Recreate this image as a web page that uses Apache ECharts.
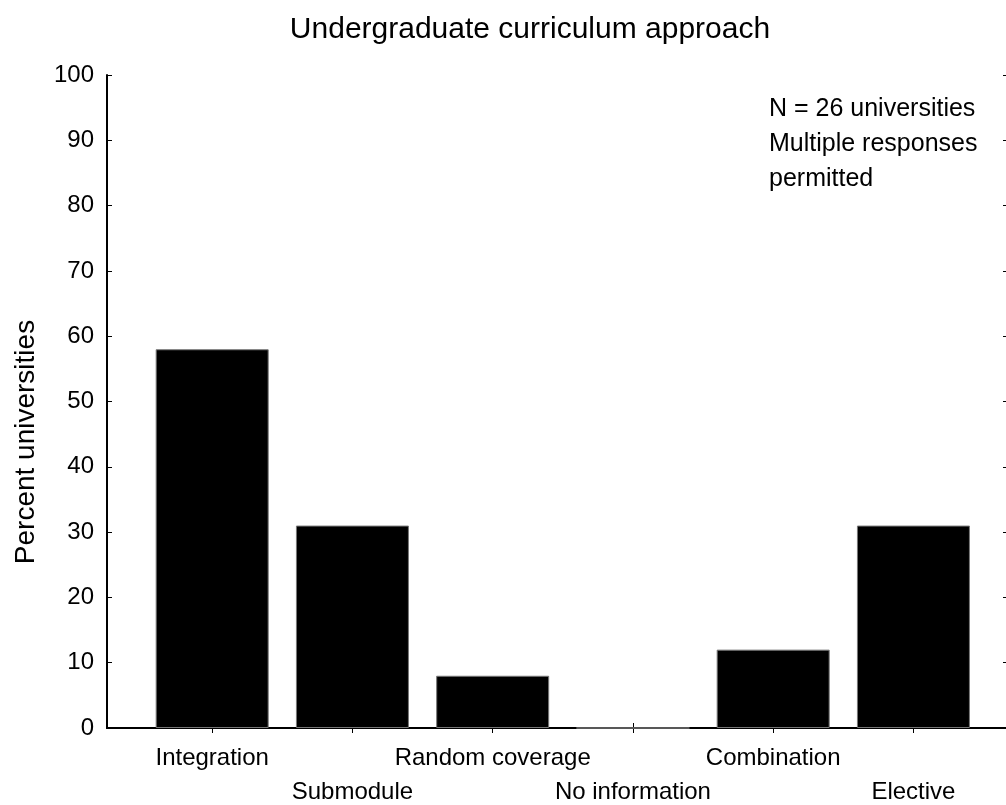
<!DOCTYPE html>
<html>
<head>
<meta charset="utf-8">
<script src="https://cdn.jsdelivr.net/npm/echarts@6/dist/echarts.min.js"></script>
<style>html,body{margin:0;padding:0;background:#fff}#c{width:1006px;height:805px}</style>
</head>
<body>
<div id="c"></div>
<script>
const categories = ['Integration', 'Submodule', 'Random coverage', 'No information', 'Combination', 'Elective'];
const percentValues = [58, 31, 8, 0, 12, 31];
const yTicks = [0, 10, 20, 30, 40, 50, 60, 70, 80, 90, 100];
const titleText = 'Undergraduate curriculum approach';
const yAxisTitle = 'Percent universities';
const noteLines = ['N = 26 universities', 'Multiple responses', 'permitted'];

const positions = categories.map((c, i) => i + 1);
const FONT = 'Liberation Sans, Arial, sans-serif';
const chart = echarts.init(document.getElementById('c'));
chart.setOption({
  animation: false,
  backgroundColor: '#fff',
  title: {
    text: titleText,
    left: 525, top: 10, textAlign: 'center',
    textStyle: { fontFamily: FONT, fontSize: 30, fontWeight: 'normal', color: '#000' }
  },
  grid: { left: 107, right: 0, top: 75, bottom: 77, containLabel: false, outerBoundsMode: 'none' },
  xAxis: [{
    type: 'value', min: 0.25, max: 6.66, position: 'bottom',
    splitLine: { show: false },
    axisLine: { show: true, lineStyle: { color: '#000', width: 2 } },
    axisTick: { show: true, inside: true, length: 5, customValues: positions, lineStyle: { color: '#000', width: 1 } },
    axisLabel: {
      customValues: positions, margin: 13,
      fontFamily: FONT, fontSize: 24, color: '#000', lineHeight: 34,
      formatter: v => {
        const i = Math.round(v) - 1;
        return i % 2 === 0 ? categories[i] : '\n' + categories[i];
      }
    }
  }, {
    type: 'value', min: 0.25, max: 6.66, position: 'top',
    splitLine: { show: false },
    axisLine: { show: true, lineStyle: { color: '#000', width: 2 } },
    axisTick: { show: true, inside: true, length: 5, customValues: positions, lineStyle: { color: '#000', width: 1 } },
    axisLabel: { show: false }
  }],
  yAxis: [{
    type: 'value', min: 0, max: 100, interval: 10, position: 'left',
    splitLine: { show: false },
    axisLine: { show: true, lineStyle: { color: '#000', width: 2 } },
    axisTick: { show: true, inside: true, length: 5, lineStyle: { color: '#000', width: 1 } },
    axisLabel: { margin: 13, fontFamily: FONT, fontSize: 24, color: '#000' }
  }, {
    type: 'value', min: 0, max: 100, interval: 10, position: 'right',
    splitLine: { show: false },
    axisLine: { show: false },
    axisTick: { show: true, inside: true, length: 3, lineStyle: { color: '#000', width: 1 } },
    axisLabel: { show: false }
  }],
  graphic: [{
    type: 'text', x: 26, y: 442, rotation: Math.PI / 2,
    style: { text: yAxisTitle, fontFamily: FONT, fontSize: 28, fill: '#000', align: 'center', verticalAlign: 'middle' }
  }, {
    type: 'text', left: 769, top: 92,
    style: { text: noteLines.join('\n'), fontFamily: FONT, fontSize: 25, lineHeight: 35, fill: '#000' }
  }],
  series: [{
    type: 'bar', xAxisIndex: 0, yAxisIndex: 0,
    barWidth: 113,
    data: percentValues.map((v, i) => [positions[i], v]),
    itemStyle: { color: '#000', borderColor: '#777', borderWidth: 1 }
  }]
});
</script>
</body>
</html>
